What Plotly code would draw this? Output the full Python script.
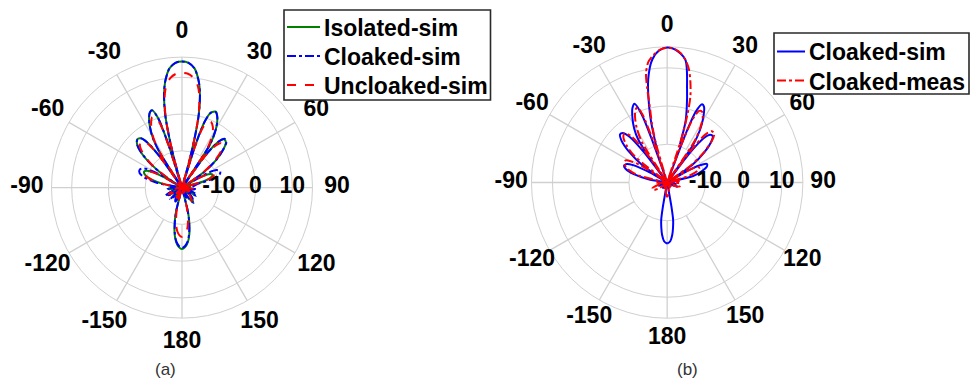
import plotly.graph_objects as go

# ---------------- shared axis settings ----------------
R_MIN, R_MAX = -20, 15.5
RADIAL_TICKS = [-10, 0, 10]
RADIAL_TICK_TEXT = ["-10", "0", "10"]
ANGLE_TICKS = [0, 30, 60, 90, 120, 150, 180, 210, 240, 270, 300, 330]
ANGLE_TICK_TEXT = ["0", "30", "60", "90", "120", "150", "180",
                   "-150", "-120", "-90", "-60", "-30"]

# ---------------- panel (a): simulated patterns (dB) ----------------
theta_a = [-180, -177, -174, -171, -168, -166, -164, -160, -155, -150, -145, -140,
           -134, -128, -122, -116, -110, -104, -98, -92, -87, -82, -79, -75, -71,
           -67, -63, -60, -58, -56, -53, -49.5, -46, -43, -40, -37.5, -35.5, -34,
           -32.5, -30.5, -28, -25.5, -23, -21, -19, -17.5, -16.5, -15.5, -14.3,
           -13, -11, -9, -6, -3, 0, 3, 6, 9, 11, 13, 14.3, 15.5, 16.5, 17.5, 19,
           21, 24, 27, 30, 33, 35, 36, 38.5, 41, 44, 47, 51, 55, 58, 60, 63, 66.5,
           70, 74, 78, 84, 90, 96, 102, 108, 114, 120, 126, 132, 138, 143, 148,
           153, 158, 162, 164, 166, 168, 171, 174, 177, 180]

isolated_sim = [-3.3, -3.8, -5.0, -7.2, -10.5, -13.5, -20, -18, -16.5, -16.8, -20, -17.5,
                -16, -20, -17, -15.5, -17.5, -20, -17, -16.5, -20, -20, -15, -11.5, -9.4,
                -8.8, -10, -14, -20, -14, -9.5, -5.5, -3.0, -2.1, -2.5, -4.5, -10, -20,
                -9, -4.5, -1.5, 0.8, 2.3, 2.5, 0, -8, -20, -13, -6,
                0.2, 5.6, 9.2, 12.6, 14.0, 14.3, 14.0, 12.6, 9.2, 5.6, 0.2, -6, -13, -20, -8, -1,
                1.8, 2.6, 1.2, -1.5, -6, -20, -9, -4, -2.6, -2.8, -4.5, -8, -13, -20, -15, -12, -11,
                -11.5, -14, -20, -17.5, -20, -16.5, -18, -20, -16.5, -16, -20, -17, -15.8, -15, -17,
                -20, -17.5, -19, -20, -13.5, -10.5, -7.2, -5.0, -3.8, -3.3]

cloaked_sim_a = [-3.6, -4.1, -5.3, -7.5, -10.8, -13.8, -20, -17, -15.8, -16.5, -20, -17,
                 -15.5, -20, -16.5, -15, -17, -20, -16.5, -16, -20, -20, -13, -9.5, -7.8,
                 -7.5, -8.5, -12, -20, -14, -9.5, -5.5, -3.0, -2.2, -2.5, -4.5, -10, -20,
                 -9, -4.5, -1.5, 0.8, 2.3, 2.5, 0, -8, -20, -13, -6,
                 0.2, 5.6, 9.2, 12.6, 14.0, 14.3, 14.0, 12.6, 9.2, 5.6, 0.2, -6, -13, -20, -8, -1,
                 1.8, 2.5, 1.2, -1.5, -6, -20, -9, -4, -2.4, -2.6, -4.5, -8, -13, -20, -12.5, -9.5, -8.7,
                 -9, -11.5, -16, -17, -20, -16, -17.5, -20, -16, -15.5, -20, -16.5, -15.5, -14.8, -16.5,
                 -20, -17, -18.5, -20, -13.8, -10.8, -7.5, -5.3, -4.1, -3.6]

uncloaked_sim = [-6.6, -7.0, -8.0, -9.8, -12.5, -15, -20, -18.5, -17, -17, -20, -18,
                 -16.5, -20, -17.5, -16, -18, -20, -17.5, -17, -20, -20, -15, -11, -9.3,
                 -9.0, -10.5, -14, -20, -15, -10, -6.5, -4.2, -3.3, -3.6, -5.5, -11, -20,
                 -9.5, -5.2, -2.5, -0.5, 0.8, 0.6, -1.5, -9, -20, -13, -6,
                 -0.2, 4.8, 7.8, 10.0, 11.0, 11.2, 11.0, 10.0, 7.8, 4.8, -0.2, -6, -13, -20, -9, -3,
                 -0.8, -0.5, -1.5, -3.5, -7.5, -20, -10, -5.5, -4.0, -4.0, -5.5, -8.8, -13.5, -20, -15.5, -12, -10.5,
                 -11, -13.5, -20, -18, -20, -17, -18.5, -20, -17, -16.5, -20, -17.5, -16.5, -15.5, -17.5,
                 -20, -18, -19.5, -20, -15, -12.5, -9.8, -8.0, -7.0, -6.6]

# ---------------- panel (b): simulated vs. measured (dB) ----------------
theta_b_sim = [-180, -177, -174.5, -172.5, -171, -170, -169, -164, -158, -150, -142,
               -134, -126, -118, -112, -106, -100, -94, -88, -84, -80, -76, -72, -69,
               -66, -63, -60, -58, -55, -51, -47.5, -44.5, -42, -39.5, -37.5, -36.5,
               -35.5, -34, -31.5, -28.5, -25, -22.5, -20.5, -19.5, -18.5, -17.8, -17,
               -15, -13.3, -10.4, -6.9, -3.5, 0, 3.5, 8.4, 12, 14.5, 16.8, 18.5, 19.2,
               20, 21, 22, 24, 26, 29, 32, 34.5, 36, 37.5, 39.5, 42, 44.5, 47.5, 51, 55,
               58, 60, 62, 65, 68, 72, 76, 80, 86, 92, 100, 106, 113, 120, 130, 140, 150,
               158, 169, 170, 171, 172.5, 174.5, 177, 180]

cloaked_sim_b = [-4.0, -4.6, -6.2, -8.2, -10, -13.5, -20, -20, -18.5, -20, -18,
                 -20, -18.5, -20, -17.5, -20, -18, -20, -18, -20, -15, -11, -8.6, -7.9,
                 -8.2, -10, -15, -20, -12, -7, -3.8, -2.4, -2.6, -4.5, -10, -20,
                 -12, -6.5, -3.5, -1.0, 1.5, 2.3, -1, -9, -20, None, -10.8,
                 -4, 0.6, 7.5, 12.4, 14.6, 15.3, 14.8, 12.5, 5, 0.5, -3.4, -9.5, None,
                 -20, -5, 0, 2.4, 2.0, -0.5, -3.8, -8, -20, -10, -5, -3.2, -3.0, -4.5, -7.5, -12,
                 -20, -14, -10.5, -8.5, -8.8, -10.5, -13, -20, -18, -20, -17.5, -20, -17, -20, -18.5, -20, -18.5,
                 -20, -20, -13.5, -10, -8.2, -6.2, -4.6, -4.0]

theta_b_meas = [-180, -172, -165, -158, -150, -142, -134, -126, -119, -112, -105, -98,
                -92, -86, -81, -76, -72, -69, -66, -62, -59, -56, -54, -51, -47.5, -44,
                -41, -38, -35.5, -34, -32, -29, -26, -23.5, -21.6, -20, -18.5, -17.5,
                -16, -14.5, -13, -12, -11, -9, -6, -3, 0, 3, 6, 9, 11, 13, 15, 16.5, 18,
                19.5, 20.5, 22, 24, 26, 28.5, 31, 33.5, 35.5, 36.5, 38.5, 41, 44, 47,
                50.5, 54, 57, 60, 63, 66, 69, 73, 77, 84, 92, 100, 108, 116, 124, 134,
                144, 154, 162, 168, 174, 180]

cloaked_meas = [-16.3, -17.5, -20, -18, -20, -18.5, -20, -17.5, -16, -15.8, -17.5, -20,
                -17, -20, -20, -12, -9.5, -8.4, -7.8, -7.7, -9.5, -14, -20, -9, -5.5, -3.5,
                -3.0, -4.5, -10, -20, -7.5, -3.5, -0.8, 0.8, 1.1, -1, -9, -20,
                -9, -4, 0, 5, 9, 11.8, 13.6, 14.8, 15.3, 15.0, 14.0, 12.0, 10, 7, 3.5, -1, -8,
                -20, -9, -2, 0.5, 0.7, -0.5, -3, -7, -20, -10, -4, -2.2, -2.3, -4,
                -7.5, -12, -20, -14, -11, -10.8, -11.5, -14, -20, -17, -16.5, -20, -16.5, -18, -20, -18.5,
                -20, -18, -20, -17.5, -16.8, -16.3]

# ---------------- styling ----------------
W, H = 971, 381
GREEN, BLUE, RED = "#008000", "#0000FF", "#FF0000"
GRID = "#d0d0d0"
FONT = "Liberation Sans, Arial, sans-serif"
BOLD = dict(family=FONT, size=23, color="black", weight="bold")

# angle labels are centred on a ring just outside the outer circle (dB units);
# the radial range reaches a little past that ring so the labels stay in view
LABEL_RING = {"polar": 22.2, "polar2": 20.8}


def px(x):
    return x / W


def py(y):
    return 1 - y / H


fig = go.Figure()


def add_grid(subplot):
    # radial spokes start at the -10 dB circle, leaving the centre clear
    th, rr = [], []
    for a in ANGLE_TICKS:
        th += [a, a, None]
        rr += [RADIAL_TICKS[0], R_MAX, None]
    fig.add_trace(go.Scatterpolar(r=rr, theta=th, mode="lines", subplot=subplot,
                                  line=dict(color=GRID, width=1.3),
                                  showlegend=False, hoverinfo="skip"))


def add_labels(subplot):
    fig.add_trace(go.Scatterpolar(r=RADIAL_TICKS, theta=[90] * len(RADIAL_TICKS),
                                  mode="text", text=RADIAL_TICK_TEXT, subplot=subplot,
                                  textposition="middle center", textfont=BOLD,
                                  showlegend=False, hoverinfo="skip"))
    fig.add_trace(go.Scatterpolar(r=[LABEL_RING[subplot]] * len(ANGLE_TICKS),
                                  theta=ANGLE_TICKS, mode="text", text=ANGLE_TICK_TEXT,
                                  subplot=subplot, textposition="middle center",
                                  textfont=BOLD, cliponaxis=False,
                                  showlegend=False, hoverinfo="skip"))


SERIES = []


def pattern(theta, r, name, color, dash, subplot):
    SERIES.append((subplot, name, color, dash))
    fig.add_trace(go.Scatterpolar(r=r, theta=theta, name=name, mode="lines",
                                  subplot=subplot, showlegend=False,
                                  line=dict(color=color, width=2, dash=dash,
                                            shape="spline", smoothing=0.8)))


add_grid("polar")
add_grid("polar2")

pattern(theta_a, isolated_sim, "Isolated-sim", GREEN, "solid", "polar")
pattern(theta_a, cloaked_sim_a, "Cloaked-sim", BLUE, "dashdot", "polar")
pattern(theta_a, uncloaked_sim, "Uncloaked-sim", RED, "dash", "polar")

pattern(theta_b_sim, cloaked_sim_b, "Cloaked-sim", BLUE, "solid", "polar2")
pattern(theta_b_meas, cloaked_meas, "Cloaked-meas", RED, "dashdot", "polar2")

add_labels("polar")
add_labels("polar2")

# ---------------- boxed legends, one per panel ----------------
# box (left, top, right, bottom), first row centre, row step, sample start/end
LEGEND_BOX = {
    "polar": dict(box=(284, 10, 490.5, 100), row0=27, step=29, line=(287, 320)),
    "polar2": dict(box=(774, 33, 969, 94), row0=51.5, step=29, line=(777, 805)),
}
shapes, annotations = [], []
for subplot, spec in LEGEND_BOX.items():
    x0, y0, x1, y1 = spec["box"]
    shapes.append(dict(type="rect", xref="paper", yref="paper",
                       x0=px(x0), x1=px(x1), y0=py(y1), y1=py(y0),
                       line=dict(color="#2a2a2a", width=1.6), fillcolor="white", layer="above"))
    entries = [s for s in SERIES if s[0] == subplot]
    for i, (_, name, color, dash) in enumerate(entries):
        yc = spec["row0"] + i * spec["step"]
        lx0, lx1 = spec["line"]
        shapes.append(dict(type="line", xref="paper", yref="paper",
                           x0=px(lx0), x1=px(lx1), y0=py(yc), y1=py(yc),
                           line=dict(color=color, width=2, dash=dash), layer="above"))
        annotations.append(dict(text=name, xref="paper", yref="paper",
                                x=px(lx1 + 2), y=py(yc + 1), xanchor="left", yanchor="middle",
                                showarrow=False, font=BOLD))

for label, xc in (("(a)", 165), ("(b)", 687)):
    annotations.append(dict(text=label, x=px(xc), y=py(369), xref="paper", yref="paper",
                            xanchor="center", yanchor="middle", showarrow=False,
                            font=dict(family=FONT, size=17, color="#333333")))


def polar_layout(x, y, subplot):
    return dict(
        domain=dict(x=x, y=y),
        bgcolor="rgba(0,0,0,0)",
        radialaxis=dict(range=[R_MIN, LABEL_RING[subplot] + 0.5],
                        tickvals=RADIAL_TICKS + [R_MAX], showticklabels=False,
                        showline=False, ticks="", gridcolor=GRID, gridwidth=1.3),
        angularaxis=dict(rotation=90, direction="clockwise", tickmode="array",
                         tickvals=ANGLE_TICKS, showticklabels=False,
                         showgrid=False, showline=False, ticks=""),
    )


fig.update_layout(
    width=W, height=H,
    margin=dict(l=0, r=0, t=0, b=0),
    paper_bgcolor="white",
    showlegend=False,
    polar=polar_layout([0.02575, 0.3491], [0.0955, 0.9197], "polar"),
    polar2=polar_layout([0.5245, 0.8497], [0.1066, 0.9354], "polar2"),
    shapes=shapes,
    annotations=annotations,
)

fig.write_html("out.html")
